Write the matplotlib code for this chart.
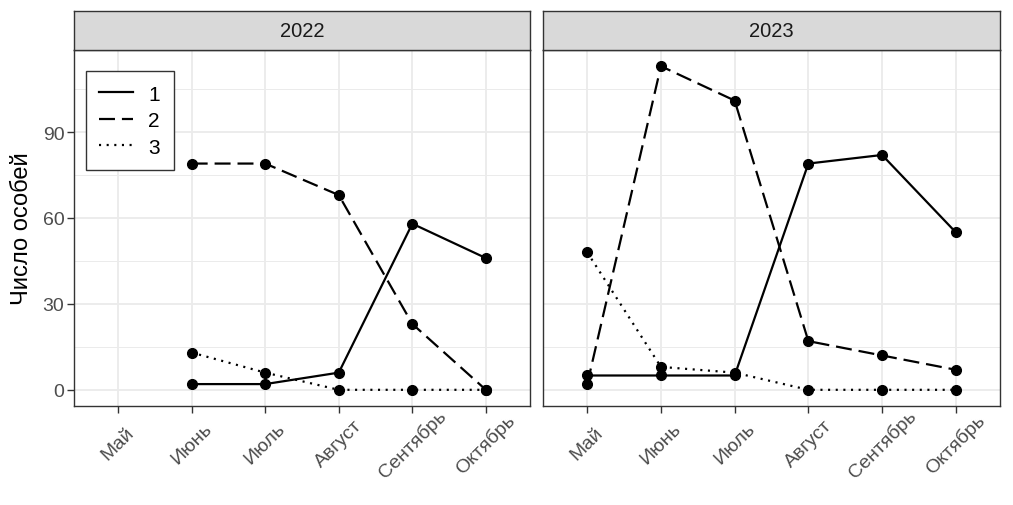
import numpy as np
import matplotlib
matplotlib.use("Agg")
import matplotlib.pyplot as plt
from matplotlib.lines import Line2D

plt.rcParams['font.family'] = ['Liberation Sans', 'DejaVu Sans']
plt.rcParams['lines.scale_dashes'] = False

# data
months = ['Май', 'Июнь', 'Июль', 'Август', 'Сентябрь', 'Октябрь']
years = ['2022', '2023']
groups = ['1', '2', '3']

g1_2022 = [np.nan, 2, 2, 6, 58, 46]
g2_2022 = [np.nan, 79, 79, 68, 23, 0]
g3_2022 = [np.nan, 13, 6, 0, 0, 0]

g1_2023 = [5, 5, 5, 79, 82, 55]
g2_2023 = [2, 113, 101, 17, 12, 7]
g3_2023 = [48, 8, 6, 0, 0, 0]

data = {
    '2022': [g1_2022, g2_2022, g3_2022],
    '2023': [g1_2023, g2_2023, g3_2023],
}

styles = ['-', (0, (11.5, 5)), (0, (1.5, 4))]

W, H = 1013, 506
fig = plt.figure(figsize=(W / 100, H / 100), dpi=100)

panels = [(74, 530), (543, 1000)]
top_px, bot_px, strip_top = 51, 407, 12

x = np.arange(len(months))
axes = []
for k, (yr, (l, r)) in enumerate(zip(years, panels)):
    ax = fig.add_axes([l / W, 1 - bot_px / H, (r - l) / W, (bot_px - top_px) / H])
    axes.append(ax)
    for vals, ls, lab in zip(data[yr], styles, groups):
        ax.plot(x, vals, color='black', lw=1.6, linestyle=ls, label=lab,
                solid_capstyle='butt', dash_capstyle='butt', zorder=3)
    for vals in data[yr]:
        ax.plot(x, vals, 'o', color='black', ms=7, zorder=4)

    ax.set_xlim(-0.6, 5.6)
    ax.set_ylim(-5.65, 118.65)
    ax.set_xticks(x)
    ax.set_xticklabels(months, rotation=45, ha='center', va='center',
                       rotation_mode='anchor', fontsize=14, color='#4D4D4D')
    ax.set_yticks([0, 30, 60, 90])
    ax.set_yticks([15, 45, 75, 105], minor=True)
    ax.grid(True, which='major', color='#EBEBEB', lw=1.3, zorder=0)
    ax.grid(True, which='minor', axis='y', color='#EBEBEB', lw=0.7, zorder=0)
    ax.set_axisbelow(True)
    ax.tick_params(axis='x', length=5, width=1, color='#333333', pad=22)
    ax.tick_params(axis='y', which='major', length=5, width=1, color='#333333',
                   labelsize=14, labelcolor='#4D4D4D', pad=2)
    ax.tick_params(axis='y', which='minor', length=0)
    if k == 1:
        ax.tick_params(axis='y', which='major', length=0, labelleft=False)
    for s in ax.spines.values():
        s.set_color('#333333')
        s.set_linewidth(1.0)

    # facet strip
    sax = fig.add_axes([l / W, 1 - top_px / H, (r - l) / W, (top_px - strip_top) / H])
    sax.set_facecolor('#D9D9D9')
    sax.set_xticks([])
    sax.set_yticks([])
    for s in sax.spines.values():
        s.set_color('#333333')
        s.set_linewidth(1.0)
    sax.text(0.5, 0.5, yr, ha='center', va='center', fontsize=14.5, color='#1A1A1A',
             transform=sax.transAxes)

handles = [Line2D([], [], color='black', lw=1.6, linestyle=ls, dash_capstyle='butt')
           for ls in styles]
leg = axes[0].legend(handles, groups, loc='upper left', bbox_to_anchor=(0.026, 0.941),
                     borderaxespad=0, fontsize=15, frameon=True, fancybox=False,
                     framealpha=1, edgecolor='#333333', handlelength=1.6,
                     handletextpad=0.75, borderpad=0.65, labelspacing=0.36)
leg.get_frame().set_linewidth(1.0)

fig.text(22 / W, 1 - ((top_px + bot_px) / 2) / H, 'Число особей', rotation=90,
         ha='center', va='center', fontsize=17, color='black')

fig.savefig('out.png', dpi=100)
